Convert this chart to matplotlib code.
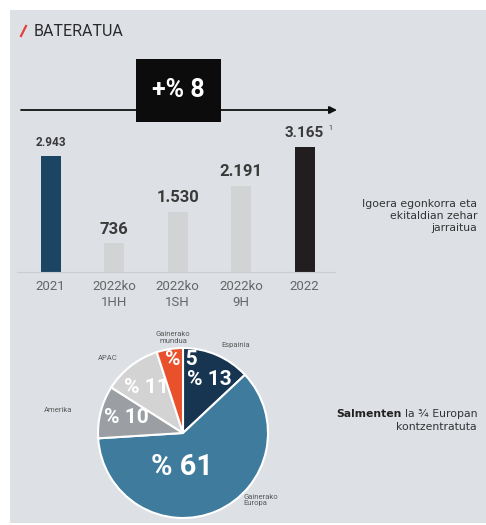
import numpy as np
import matplotlib.pyplot as plt
from matplotlib.patches import Rectangle
from matplotlib.lines import Line2D

plt.rcParams['font.family'] = ['Roboto', 'DejaVu Sans']

# bar chart data
periods = ["2021", "2022ko\n1HH", "2022ko\n1SH", "2022ko\n9H", "2022"]
sales = [2943, 736, 1530, 2191, 3165]
bar_colors = ["#1c4563", "#d2d3d4", "#d2d3d4", "#d2d3d4", "#221e20"]
growth_label = "+% 8"

# pie data
regions = ["Espainia", "Gainerako\nEuropa", "Amerika", "APAC", "Gainerako\nmundua"]
shares = [13, 61, 10, 11, 5]
pie_colors = ["#173450", "#3f7b9d", "#9b9fa4", "#d3d3d3", "#e9512d"]

W, H = 486, 525
fig = plt.figure(figsize=(W / 100, H / 100), dpi=100)
fig.patch.set_facecolor("white")
fig.add_artist(Rectangle((10 / W, 2 / H), 1 - 10 / W, (523 - 10) / H,
                         transform=fig.transFigure, facecolor="#dde0e5",
                         edgecolor="none", zorder=-5))

# ---- bars ----
px_per_unit = 0.0394
ax = fig.add_axes([17 / W, (H - 272) / H, (335 - 17) / W, (272 - 100) / H])
ax.patch.set_alpha(0)
x = np.arange(len(sales))
ax.bar(x, sales, width=0.315, color=bar_colors, zorder=2)
ax.set_xlim(-0.53, 4.48)
ax.set_ylim(0, 172 / px_per_unit)
for s in ["top", "left", "right"]:
    ax.spines[s].set_visible(False)
ax.spines["bottom"].set_color("#c9ccd1")
ax.spines["bottom"].set_linewidth(0.8)
ax.set_yticks([])
ax.set_xticks(x, periods)
ax.tick_params(axis="x", length=0, pad=6, labelsize=9.5, labelcolor="#666666")
for lab in ax.get_xticklabels():
    lab.set_linespacing(1.25)

label_sizes = [8.5, 12, 12, 12, 11]
for i, v in enumerate(sales):
    txt = f"{v:,}".replace(",", ".")
    ax.annotate(txt, (i, v), xytext=(0, 14), textcoords="offset pixels",
                ha="center", va="center", fontsize=label_sizes[i],
                fontweight="bold", color="#3a3a3a")
ax.annotate("1", (4, sales[4]), xytext=(26, 19), textcoords="offset pixels",
            ha="center", va="center", fontsize=5, color="#3a3a3a")

# ---- pie ----
pr = 85
pax = fig.add_axes([(183 - 1.2 * pr) / W, (H - 433 - 1.2 * pr) / H,
                    2.4 * pr / W, 2.4 * pr / H])
wedges, _ = pax.pie(shares, colors=pie_colors, startangle=90, counterclock=False,
                    radius=1, wedgeprops=dict(edgecolor="white", linewidth=1.5))
pax.set_xlim(-1.2, 1.2)
pax.set_ylim(-1.2, 1.2)

pct_r = [0.7, 0.4, 0.69, 0.68, 0.86]
pct_shift = [-3, -25, -1, 1, -8]
pct_size = [15, 21, 15, 15, 15]
out_r = [1.21, 1.06, 1.49, 1.25, 1.13]
out_shift = [-7.6, 18.6, 4, 7, -3]
out_ha = ["center", "left", "center", "center", "center"]
for i, w in enumerate(wedges):
    mid = np.deg2rad((w.theta1 + w.theta2) / 2)
    a = mid + np.deg2rad(pct_shift[i])
    pax.text(pct_r[i] * np.cos(a), pct_r[i] * np.sin(a), f"% {shares[i]}",
             ha="center", va="center", color="white", fontweight="bold",
             fontsize=pct_size[i])
    b = mid + np.deg2rad(out_shift[i])
    pax.text(out_r[i] * np.cos(b), out_r[i] * np.sin(b), regions[i],
             ha=out_ha[i], va="center", color="#5a5a5a", fontsize=5.5,
             linespacing=1.1, clip_on=False)

# ---- decorations in pixel space ----
ov = fig.add_axes([0, 0, 1, 1], zorder=10)
ov.set_xlim(0, W)
ov.set_ylim(H, 0)
ov.axis("off")
ov.patch.set_alpha(0)

ov.add_line(Line2D([21, 26], [36, 26], color="#e0413c", lw=1.6))
ov.text(34, 31, "BATERATUA", ha="left", va="center", fontsize=11.5, color="#2a2a2a")

ov.annotate("", xy=(337, 110), xytext=(21, 110),
            arrowprops=dict(arrowstyle="-|>", color="#111111", lw=1.3,
                            mutation_scale=11, shrinkA=0, shrinkB=0))
ov.add_patch(Rectangle((136, 59), 85, 63, facecolor="#0c0c0c", edgecolor="none", zorder=3))
ov.text(178, 90, growth_label, ha="center", va="center", fontsize=18,
        fontweight="bold", color="white", zorder=4)

side = dict(ha="right", fontsize=7.8, family="DejaVu Sans")
ov.text(477, 216, "Igoera egonkorra eta\nekitaldian zehar\njarraitua", va="center",
        color="#333333", linespacing=1.3, **side)

t = ov.text(477, 419, "la ¾ Europan", va="bottom", color="#333333", **side)
ov.annotate("Salmenten", xy=(0, 0), xycoords=t, xytext=(-3, 0),
            textcoords="offset pixels", va="bottom", fontweight="bold",
            color="#222222", **side)
ov.text(477, 427, "kontzentratuta", va="center", color="#333333", **side)

fig.savefig("out.png", dpi=100)
